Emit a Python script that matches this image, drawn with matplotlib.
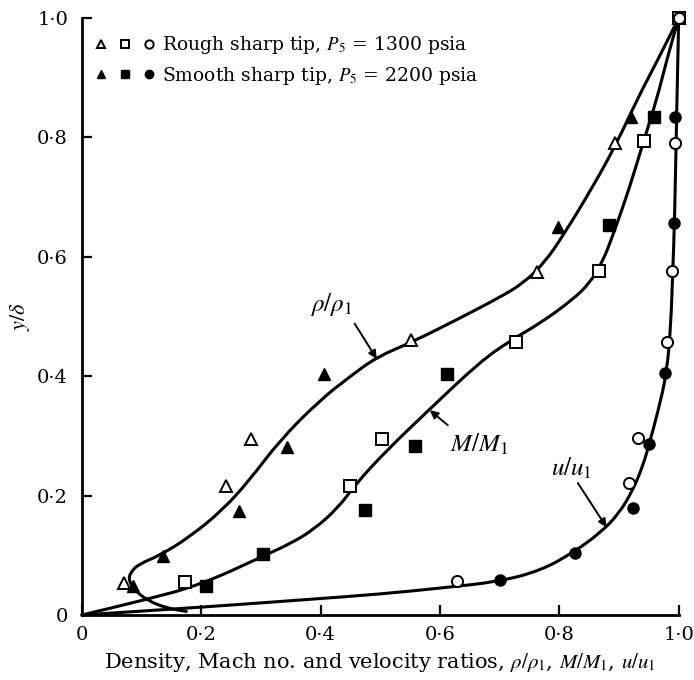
import matplotlib
matplotlib.use('Agg')
import matplotlib.pyplot as plt
from matplotlib.path import Path
from matplotlib.patches import PathPatch
from matplotlib.legend_handler import HandlerTuple

plt.rcParams['font.family'] = 'serif'
plt.rcParams['font.serif'] = ['DejaVu Serif']
plt.rcParams['mathtext.fontset'] = 'stix'

# measured points, rough sharp tip (open) and smooth sharp tip (filled)
rho_rough_x = [0.070, 0.241, 0.283, 0.551, 0.762, 0.893, 1.0]
rho_rough_y = [0.054, 0.216, 0.295, 0.461, 0.575, 0.790, 1.0]
rho_smooth_x = [0.085, 0.136, 0.263, 0.343, 0.405, 0.797, 0.920]
rho_smooth_y = [0.049, 0.099, 0.174, 0.281, 0.403, 0.650, 0.834]

mach_rough_x = [0.172, 0.449, 0.503, 0.727, 0.866, 0.941, 1.0]
mach_rough_y = [0.055, 0.216, 0.295, 0.457, 0.576, 0.794, 1.0]
mach_smooth_x = [0.208, 0.303, 0.474, 0.558, 0.611, 0.884, 0.958]
mach_smooth_y = [0.049, 0.102, 0.176, 0.283, 0.403, 0.653, 0.834]

vel_rough_x = [0.628, 0.916, 0.931, 0.981, 0.988, 0.993, 1.0]
vel_rough_y = [0.057, 0.221, 0.296, 0.457, 0.576, 0.790, 1.0]
vel_smooth_x = [0.700, 0.826, 0.923, 0.950, 0.977, 0.992, 0.993]
vel_smooth_y = [0.058, 0.104, 0.179, 0.286, 0.405, 0.656, 0.834]

# faired curves through the data
rho_curve_x = [0.175, 0.14, 0.109, 0.088, 0.078, 0.082, 0.095, 0.131, 0.181, 0.236,
               0.281, 0.332, 0.399, 0.45, 0.494, 0.553, 0.633, 0.70, 0.74, 0.775,
               0.806, 0.856, 0.896, 0.93, 0.965, 1.0]
rho_curve_y = [0.006, 0.012, 0.025, 0.042, 0.059, 0.072, 0.085, 0.100, 0.131, 0.176,
               0.226, 0.293, 0.36, 0.40, 0.432, 0.457, 0.497, 0.532, 0.556, 0.59,
               0.635, 0.717, 0.79, 0.863, 0.93, 1.0]

mach_curve_x = [0, 0.1, 0.198, 0.307, 0.35, 0.387, 0.43, 0.46, 0.511, 0.583, 0.667,
                0.717, 0.77, 0.822, 0.85, 0.872, 0.893, 0.918, 0.94, 0.963, 0.98, 1.0]
mach_curve_y = [0, 0.024, 0.050, 0.1, 0.12, 0.142, 0.18, 0.221, 0.276, 0.345, 0.424,
                0.459, 0.49, 0.528, 0.555, 0.59, 0.645, 0.717, 0.79, 0.863, 0.93, 1.0]

vel_curve_x = [0, 0.2, 0.365, 0.5, 0.6, 0.7, 0.77, 0.822, 0.868, 0.9, 0.923, 0.94,
               0.951, 0.965, 0.98, 0.987, 0.99, 0.993, 0.997, 1.0]
vel_curve_y = [0, 0.013, 0.025, 0.035, 0.045, 0.056, 0.075, 0.104, 0.137, 0.17, 0.209,
               0.25, 0.288, 0.34, 0.405, 0.49, 0.578, 0.656, 0.863, 1.0]

ticks = [0, 0.2, 0.4, 0.6, 0.8, 1.0]
tick_labels = ['0', '0·2', '0·4', '0·6', '0·8', '1·0']


def smooth_path(xs, ys):
    # quadratic bezier through the midpoints, interior points act as control points
    pts = list(zip(xs, ys))
    verts = [pts[0]]
    codes = [Path.MOVETO]
    mid = ((pts[0][0] + pts[1][0]) / 2, (pts[0][1] + pts[1][1]) / 2)
    verts.append(mid)
    codes.append(Path.LINETO)
    for i in range(1, len(pts) - 1):
        nxt = ((pts[i][0] + pts[i + 1][0]) / 2, (pts[i][1] + pts[i + 1][1]) / 2)
        verts += [pts[i], nxt]
        codes += [Path.CURVE3, Path.CURVE3]
    verts.append(pts[-1])
    codes.append(Path.LINETO)
    return Path(verts, codes)


fig = plt.figure(figsize=(6.94, 6.80), dpi=100)
ax = fig.add_axes([0.118, 0.0956, 0.860, 0.878])

lw = 2.2
for cx, cy in [(rho_curve_x, rho_curve_y), (mach_curve_x, mach_curve_y),
               (vel_curve_x, vel_curve_y)]:
    patch = PathPatch(smooth_path(cx, cy), facecolor='none', edgecolor='black',
                      lw=lw, capstyle='round', joinstyle='round', clip_on=False, zorder=2)
    ax.add_patch(patch)

ms = 8
open_kw = dict(ls='none', mfc='white', mec='black', mew=1.4, ms=ms, clip_on=False, zorder=3)
fill_kw = dict(ls='none', mfc='black', mec='black', mew=1.0, ms=ms, clip_on=False, zorder=3)

h1, = ax.plot(rho_rough_x, rho_rough_y, marker='^', **open_kw)
h2, = ax.plot(mach_rough_x, mach_rough_y, marker='s', **open_kw)
h3, = ax.plot(vel_rough_x, vel_rough_y, marker='o', **open_kw)
h4, = ax.plot(rho_smooth_x, rho_smooth_y, marker='^', **fill_kw)
h5, = ax.plot(mach_smooth_x, mach_smooth_y, marker='s', **fill_kw)
h6, = ax.plot(vel_smooth_x, vel_smooth_y, marker='o', **fill_kw)

ax.legend([(h1, h2, h3), (h4, h5, h6)],
          [r'Rough sharp tip, $P_5$ = 1300 psia',
           r'Smooth sharp tip, $P_5$ = 2200 psia'],
          handler_map={tuple: HandlerTuple(ndivide=None, pad=0.9)},
          loc='upper left', bbox_to_anchor=(0.0, 0.998), frameon=False,
          fontsize=13.5, markerscale=0.75, handlelength=3.0, handletextpad=0.45,
          labelspacing=0.45, borderaxespad=0.4)

arrow = dict(arrowstyle='-|>', color='black', lw=1.4, mutation_scale=12,
             shrinkA=0, shrinkB=0)
ax.annotate('', xy=(0.494, 0.429), xytext=(0.457, 0.488), arrowprops=arrow)
ax.text(0.417, 0.520, r'$\rho/\rho_1$', fontsize=18, ha='center', va='center')
ax.annotate('', xy=(0.583, 0.343), xytext=(0.613, 0.318), arrowprops=arrow)
ax.text(0.616, 0.285, r'$M/M_1$', fontsize=18, ha='left', va='center')
ax.annotate('', xy=(0.879, 0.147), xytext=(0.831, 0.221), arrowprops=arrow)
ax.text(0.821, 0.245, r'$u/u_1$', fontsize=18, ha='center', va='center')

ax.set_xlim(0, 1.0)
ax.set_ylim(0, 1.0)
ax.set_xticks(ticks)
ax.set_xticklabels(tick_labels)
ax.set_yticks(ticks)
ax.set_yticklabels(tick_labels)
ax.tick_params(direction='in', length=7, width=1.6, labelsize=14)
ax.tick_params(axis='x', pad=8)
ax.tick_params(axis='y', pad=10)

for side in ['top', 'right']:
    ax.spines[side].set_visible(False)
for side in ['left', 'bottom']:
    ax.spines[side].set_linewidth(2.0)

ax.set_xlabel(r'Density, Mach no. and velocity ratios, $\rho/\rho_1$, $M/M_1$, $u/u_1$',
              fontsize=15, labelpad=5)
ax.set_ylabel(r'$y/\delta$', fontsize=16, labelpad=4)

fig.savefig('out.png', dpi=100)
